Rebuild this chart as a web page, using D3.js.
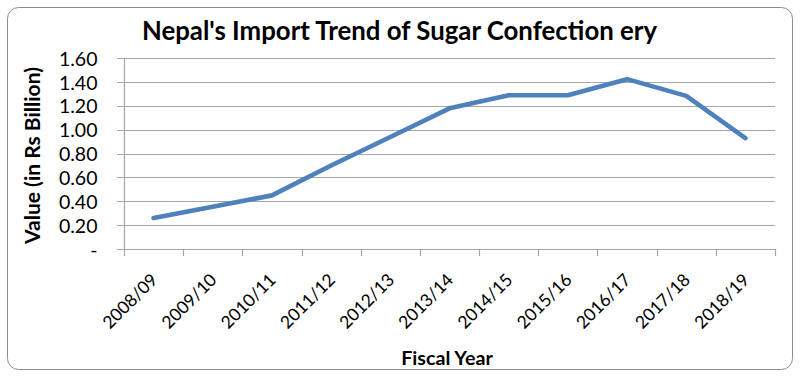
<!DOCTYPE html>
<html><head><meta charset="utf-8">
<script src="https://cdn.jsdelivr.net/npm/d3@7"></script>
<style>body{margin:0;background:#fff}svg{display:block}</style>
</head><body>
<script>
const categories = ["2008/09","2009/10","2010/11","2011/12","2012/13","2013/14","2014/15","2015/16","2016/17","2017/18","2018/19"];
const values = [0.26,0.355,0.45,0.70,0.94,1.18,1.29,1.29,1.425,1.285,0.93];
const yTicks = [0,0.2,0.4,0.6,0.8,1.0,1.2,1.4,1.6];
const title = "Nepal's Import Trend of Sugar Confection ery";
const yTitle = "Value (in Rs Billion)";
const xTitle = "Fiscal Year";

const W=800,H=378;
const font="Lato, 'Open Sans', sans-serif";
const svg=d3.select("body").append("svg").attr("width",W).attr("height",H);
svg.append("rect").attr("x",0).attr("y",0).attr("width",W).attr("height",H).attr("fill","#fff");
svg.append("rect").attr("x",7.5).attr("y",7.5).attr("width",785).attr("height",362)
  .attr("rx",11).attr("fill","#fff").attr("stroke","#8c8c8c").attr("stroke-width",1);

const L=124,R=775,T=58.3,B=249;
const x=d3.scaleBand().domain(categories).range([L,R]);
const y=d3.scaleLinear().domain([0,1.6]).range([B,T]);

// gridlines
svg.append("g").selectAll("line").data(yTicks).join("line")
  .attr("x1",L-7).attr("x2",R).attr("y1",d=>Math.round(y(d))+0.5).attr("y2",d=>Math.round(y(d))+0.5)
  .attr("stroke","#a6a6a6").attr("stroke-width",1.2);

// y axis line
svg.append("line").attr("x1",L+0.5).attr("x2",L+0.5).attr("y1",T).attr("y2",B+0.5)
  .attr("stroke","#a6a6a6").attr("stroke-width",1.2);

// x ticks
const xt=categories.map((c,i)=>x(c)).concat([R]);
svg.append("g").selectAll("line").data(xt).join("line")
  .attr("x1",d=>Math.round(d)+0.5).attr("x2",d=>Math.round(d)+0.5).attr("y1",B).attr("y2",B+7)
  .attr("stroke","#a6a6a6").attr("stroke-width",1.2);

// y tick labels
svg.append("g").selectAll("text").data(yTicks).join("text")
  .attr("x",97.5).attr("y",d=>y(d)+7.5).attr("text-anchor","end")
  .attr("font-family",font).attr("font-size",19.5).attr("fill","#000")
  .text(d=>d===0?"-":d3.format(".2f")(d));

// x tick labels
svg.append("g").selectAll("text").data(categories).join("text")
  .attr("transform",d=>`translate(${x(d)+x.bandwidth()/2+5},${B+32}) rotate(-45)`)
  .attr("text-anchor","end").attr("font-family",font).attr("font-size",17.5).attr("fill","#000")
  .text(d=>d);

// line
const line=d3.line().x((d,i)=>x(categories[i])+x.bandwidth()/2).y(d=>y(d));
svg.append("path").datum(values).attr("d",line).attr("fill","none")
  .attr("stroke","#4f81bd").attr("stroke-width",4.6).attr("stroke-linejoin","round").attr("stroke-linecap","round");

// titles
svg.append("text").attr("x",399.5).attr("y",39.5).attr("text-anchor","middle")
  .attr("font-family",font).attr("font-weight","bold").attr("font-size",25.8).attr("fill","#000").text(title);
svg.append("text").attr("transform",`translate(40,155.5) rotate(-90)`).attr("text-anchor","middle")
  .attr("font-family",font).attr("font-weight","bold").attr("font-size",21).attr("fill","#000").text(yTitle);
svg.append("text").attr("x",447).attr("y",365).attr("text-anchor","middle")
  .attr("font-family",font).attr("font-weight","bold").attr("font-size",19.7).attr("fill","#000").text(xTitle);
</script>
</body></html>
